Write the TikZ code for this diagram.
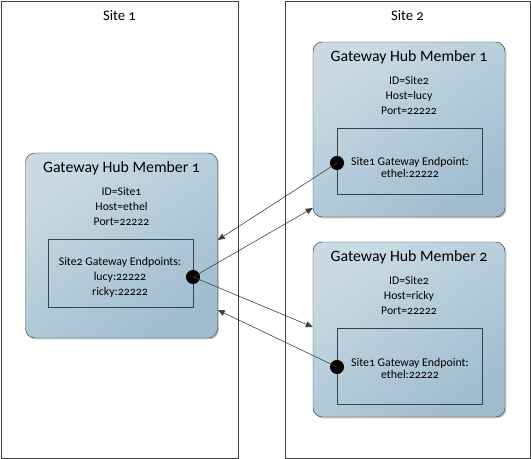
\documentclass[tikz,border=0pt]{standalone}
\usepackage{fontspec}
\setmainfont{Carlito}[Numbers=OldStyle]
\usetikzlibrary{arrows.meta, positioning, shadows, calc}
\definecolor{HL}{RGB}{202,218,228}
\definecolor{HD}{RGB}{160,189,206}
\definecolor{DG}{RGB}{64,64,64}

\begin{document}
\begin{tikzpicture}[
  x=0.03cm, y=-0.03cm,
  site/.style={draw=DG, line width=0.8pt, minimum width=#1*0.03cm,
               minimum height=457*0.03cm, inner sep=0pt},
  hub/.style={draw=DG, rounded corners=8pt, top color=HL, bottom color=HD,
              shading angle=35, minimum width=192*0.03cm, inner sep=0pt,
              drop shadow={shadow xshift=1.2pt, shadow yshift=-1.2pt,
                           opacity=0.35, fill=black!60}},
  epbox/.style={draw=DG, minimum width=145*0.03cm, inner sep=0pt},
  title/.style={font=\fontsize{13.5}{15}\selectfont, anchor=north},
  info/.style={font=\fontsize{10}{12.6}\selectfont, align=center, anchor=north},
  eptext/.style={font=\fontsize{10.1}{#1}\selectfont, align=center},
  dot/.style={circle, fill=black, inner sep=0pt, minimum size=12pt},
  link/.style={-{Triangle[length=6pt, width=5pt]}, draw=DG, line width=0.5pt}
]
\useasboundingbox (0,0) rectangle (531,459);

% sites
\node[site=237] (site1) at (119.5,229.5) {};
\node[site=245] (site2) at (407.5,229.5) {};
\node[title, font=\fontsize{12.5}{14}\selectfont] (site1T) at (119.5,6) {Site 1};
\node[title, font=\fontsize{12.5}{14}\selectfont] (site2T) at (407.5,6) {Site 2};

% hub members
\node[hub, minimum height=185*0.03cm] (lhub) at (121.5,245.5) {};
\node[hub, minimum height=175*0.03cm] (rhubA) at (409,129.5) {};
\node[hub, minimum height=175*0.03cm] (rhubB) at (409,329.5) {};

\node[title] (lhubT) at ($(lhub.north)+(0,5)$) {Gateway Hub Member 1};
\node[title] (rhubAT) at ($(rhubA.north)+(0,5)$) {Gateway Hub Member 1};
\node[title] (rhubBT) at ($(rhubB.north)+(0,5)$) {Gateway Hub Member 2};

\node[info] (lhubI) at ($(lhubT.south)+(0,4)$) {ID=Site1\\Host=ethel\\Port=22222};
\node[info] (rhubAI) at ($(rhubAT.south)+(0,4)$) {ID=Site2\\Host=lucy\\Port=22222};
\node[info] (rhubBI) at ($(rhubBT.south)+(0,4)$) {ID=Site2\\Host=ricky\\Port=22222};

% endpoint boxes
\node[epbox, minimum height=68*0.03cm] (lep) at (121,273) {};
\node[epbox, minimum height=66*0.03cm] (rAep) at (409.5,161) {};
\node[epbox, minimum height=76*0.03cm] (rBep) at (409.5,366) {};
\node[eptext=12.8] (lepT) at (120,277) {Site2 Gateway Endpoints:\\lucy:22222\\ricky:22222};
\node[eptext=10.2] (rAepT) at (410,167.5) {Site1 Gateway Endpoint:\\ethel:22222};
\node[eptext=10.2] (rBepT) at (410,368) {Site1 Gateway Endpoint:\\ethel:22222};

\node[dot] (ldot) at (193,277) {};
\node[dot] (rAdot) at (337,163) {};
\node[dot] (rBdot) at (337,367) {};

% arrow ends on hub borders
\coordinate (lhubIn1) at (lhub.east |- 0,240);
\coordinate (lhubIn2) at (lhub.east |- 0,310);
\coordinate (rhubAIn) at (rhubA.west |- 0,208);
\coordinate (rhubBIn) at (rhubB.west |- 0,327);

\draw[link] (rAdot.center) -- (lhubIn1);
\draw[link] (ldot.center) -- (rhubAIn);
\draw[link] (ldot.center) -- (rhubBIn);
\draw[link] (rBdot.center) -- (lhubIn2);
\end{tikzpicture}
\end{document}
